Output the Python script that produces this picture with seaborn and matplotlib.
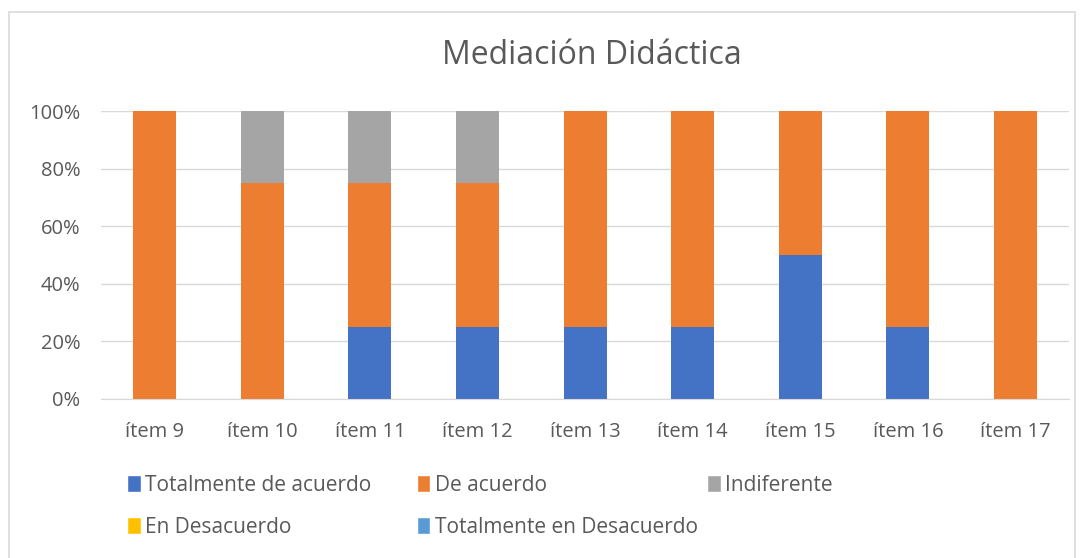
import numpy as np
import pandas as pd
import matplotlib.pyplot as plt
import seaborn as sns
from matplotlib.patches import Rectangle, Patch
from matplotlib.ticker import PercentFormatter

# datos (porcentaje por ítem)
items = ['ítem 9', 'ítem 10', 'ítem 11', 'ítem 12', 'ítem 13',
         'ítem 14', 'ítem 15', 'ítem 16', 'ítem 17']
totalmente_acuerdo = [0, 0, 25, 25, 25, 25, 50, 25, 0]
de_acuerdo = [100, 75, 50, 50, 75, 75, 50, 75, 100]
indiferente = [0, 25, 25, 25, 0, 0, 0, 0, 0]
en_desacuerdo = [0, 0, 0, 0, 0, 0, 0, 0, 0]
totalmente_desacuerdo = [0, 0, 0, 0, 0, 0, 0, 0, 0]

series = ['Totalmente de acuerdo', 'De acuerdo', 'Indiferente',
          'En Desacuerdo', 'Totalmente en Desacuerdo']
colores = ['#4472C4', '#ED7D31', '#A5A5A5', '#FFC000', '#5B9BD5']

sns.set_style('white')
plt.rcParams['font.family'] = ['Open Sans', 'DejaVu Sans']
gris_texto = '#595959'

fig = plt.figure(figsize=(10.8, 5.58), dpi=100)
ax = fig.add_axes([0.0935, 0.285, 0.8965, 0.516])

# marco del gráfico
fig.patches.append(Rectangle((9 / 1080, -0.01), 1066 / 1080, 1 - 12 / 558 + 0.01,
                             transform=fig.transFigure, fill=False,
                             edgecolor='#D9D9D9', linewidth=1.2))

df = pd.DataFrame({'item': items,
                   series[0]: totalmente_acuerdo,
                   series[1]: de_acuerdo,
                   series[2]: indiferente,
                   series[3]: en_desacuerdo,
                   series[4]: totalmente_desacuerdo})

base = np.zeros(len(items))
for nombre, color in zip(series, colores):
    sns.barplot(data=df, x='item', y=nombre, color=color, bottom=base,
                width=0.4, ax=ax, saturation=1, linewidth=0)
    base = base + df[nombre].values

ax.set_ylim(0, 100)
ax.set_xlim(-0.5, len(items) - 0.5)
ax.set_yticks(range(0, 101, 20))
ax.yaxis.set_major_formatter(PercentFormatter(decimals=0))
ax.set_axisbelow(True)
ax.grid(axis='y', color='#D9D9D9', linewidth=1)
for s in ['top', 'right', 'left']:
    ax.spines[s].set_visible(False)
ax.spines['bottom'].set_color('#D9D9D9')
ax.tick_params(axis='both', length=0, labelsize=14.5, colors=gris_texto)
ax.tick_params(axis='y', pad=15)
ax.tick_params(axis='x', pad=16.5)
ax.set_xlabel('')
ax.set_ylabel('')

fig.text(0.548, 0.901, 'Mediación Didáctica', ha='center', va='center',
         fontsize=23, color=gris_texto)

# leyenda: tres columnas de ancho fijo, orden por filas
handles = [Patch(facecolor=c) for c in colores]
columnas = [[0, 3], [1, 4], [2]]
x_col = [0.118, 0.386, 0.655]
for idx, x0 in zip(columnas, x_col):
    leg = fig.legend([handles[i] for i in idx], [series[i] for i in idx],
                     ncol=1, loc='upper left', bbox_to_anchor=(x0, 0.149),
                     frameon=False, fontsize=15, handlelength=0.65,
                     handleheight=0.85, handletextpad=0.2, labelspacing=1.0,
                     borderpad=0, borderaxespad=0, labelcolor=gris_texto)

fig.savefig('out.png', dpi=100)
